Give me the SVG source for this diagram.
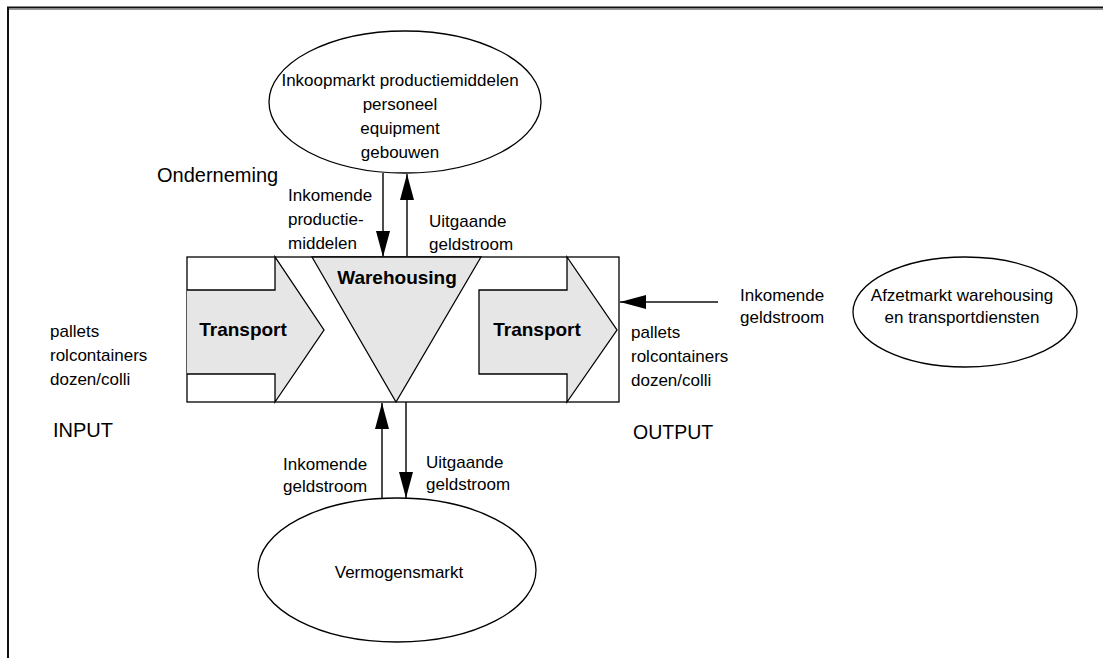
<svg xmlns="http://www.w3.org/2000/svg" width="1103" height="658" viewBox="0 0 1103 658">
  <style>
    text { font-family: "Liberation Sans", Arial, sans-serif; fill: #000; }
    .lbl { font-size: 17px; }
    .big { font-size: 20px; }
    .bold { font-size: 19px; font-weight: bold; }
    .shape { fill: #fff; stroke: #000; stroke-width: 1.3; }
    .grey { fill: #e6e6e6; stroke: #000; stroke-width: 1.3; }
    .flow { fill: none; stroke: #111; stroke-width: 1.5; }
  </style>
  <defs>
    <marker id="head" markerUnits="userSpaceOnUse" markerWidth="26" markerHeight="14" refX="26" refY="7" orient="auto">
      <path d="M0,0 L26,7 L0,14 Z" fill="#000"/>
    </marker>
  </defs>

  <rect width="1103" height="658" fill="#fff"/>
  <!-- outer frame -->
  <rect x="8" y="7.5" width="1200" height="700" fill="none" stroke="#111" stroke-width="2"/>
  <line x1="9" y1="9.5" x2="1103" y2="9.5" stroke="#999" stroke-width="1"/>

  <!-- company block -->
  <g id="onderneming">
    <rect class="shape" x="187" y="257" width="432" height="145"/>
    <text class="big" x="157" y="182">Onderneming</text>
  </g>

  <g id="transport-in">
    <path class="grey" d="M187,290 L275,290 L275,257 L324,330 L275,402 L275,374 L187,374"/>
    <text class="bold" x="243" y="336" text-anchor="middle">Transport</text>
  </g>

  <g id="warehousing">
    <path class="grey" d="M312,257 L481,257 L396,402 Z"/>
    <text class="bold" x="397" y="284" text-anchor="middle">Warehousing</text>
  </g>

  <g id="transport-out">
    <path class="grey" d="M479,290 L567,290 L567,257 L617,330 L567,402 L567,374 L479,374 Z"/>
    <text class="bold" x="537" y="336" text-anchor="middle">Transport</text>
  </g>

  <!-- markets -->
  <g id="inkoopmarkt">
    <ellipse class="shape" cx="405" cy="102" rx="136" ry="71"/>
    <text class="lbl" x="400" y="86" text-anchor="middle">Inkoopmarkt productiemiddelen</text>
    <text class="lbl" x="400" y="110" text-anchor="middle">personeel</text>
    <text class="lbl" x="400" y="134" text-anchor="middle">equipment</text>
    <text class="lbl" x="400" y="158" text-anchor="middle">gebouwen</text>
  </g>

  <g id="afzetmarkt">
    <ellipse class="shape" cx="965" cy="312" rx="112" ry="55"/>
    <text class="lbl" x="962" y="301" text-anchor="middle">Afzetmarkt warehousing</text>
    <text class="lbl" x="962" y="323" text-anchor="middle">en transportdiensten</text>
  </g>

  <g id="vermogensmarkt">
    <ellipse class="shape" cx="397" cy="570" rx="139" ry="72"/>
    <text class="lbl" x="399" y="578" text-anchor="middle">Vermogensmarkt</text>
  </g>

  <!-- input / output labels -->
  <g id="input">
    <text class="lbl" x="50" y="337">pallets</text>
    <text class="lbl" x="50" y="361">rolcontainers</text>
    <text class="lbl" x="50" y="385">dozen/colli</text>
    <text class="big" x="53" y="437">INPUT</text>
  </g>

  <g id="output">
    <text class="lbl" x="631" y="338">pallets</text>
    <text class="lbl" x="631" y="362">rolcontainers</text>
    <text class="lbl" x="631" y="386">dozen/colli</text>
    <text class="big" x="633" y="439" style="font-size:19.5px">OUTPUT</text>
  </g>

  <!-- flows -->
  <g id="connectors">
    <line class="flow" x1="383" y1="173" x2="383" y2="257" marker-end="url(#head)"/>
    <line class="flow" x1="407" y1="257" x2="407" y2="174" marker-end="url(#head)"/>
    <line class="flow" x1="718" y1="302" x2="620" y2="302" marker-end="url(#head)"/>
    <line class="flow" x1="382" y1="498" x2="382" y2="403" marker-end="url(#head)"/>
    <line class="flow" x1="406" y1="402" x2="406" y2="498" marker-end="url(#head)"/>

    <text class="lbl" x="288" y="201">Inkomende</text>
    <text class="lbl" x="288" y="225">productie-</text>
    <text class="lbl" x="288" y="249">middelen</text>
    <text class="lbl" x="429" y="227">Uitgaande</text>
    <text class="lbl" x="429" y="250">geldstroom</text>

    <text class="lbl" x="740" y="301">Inkomende</text>
    <text class="lbl" x="740" y="323">geldstroom</text>

    <text class="lbl" x="283" y="470">Inkomende</text>
    <text class="lbl" x="283" y="492">geldstroom</text>
    <text class="lbl" x="426" y="468">Uitgaande</text>
    <text class="lbl" x="426" y="490">geldstroom</text>
  </g>
</svg>
